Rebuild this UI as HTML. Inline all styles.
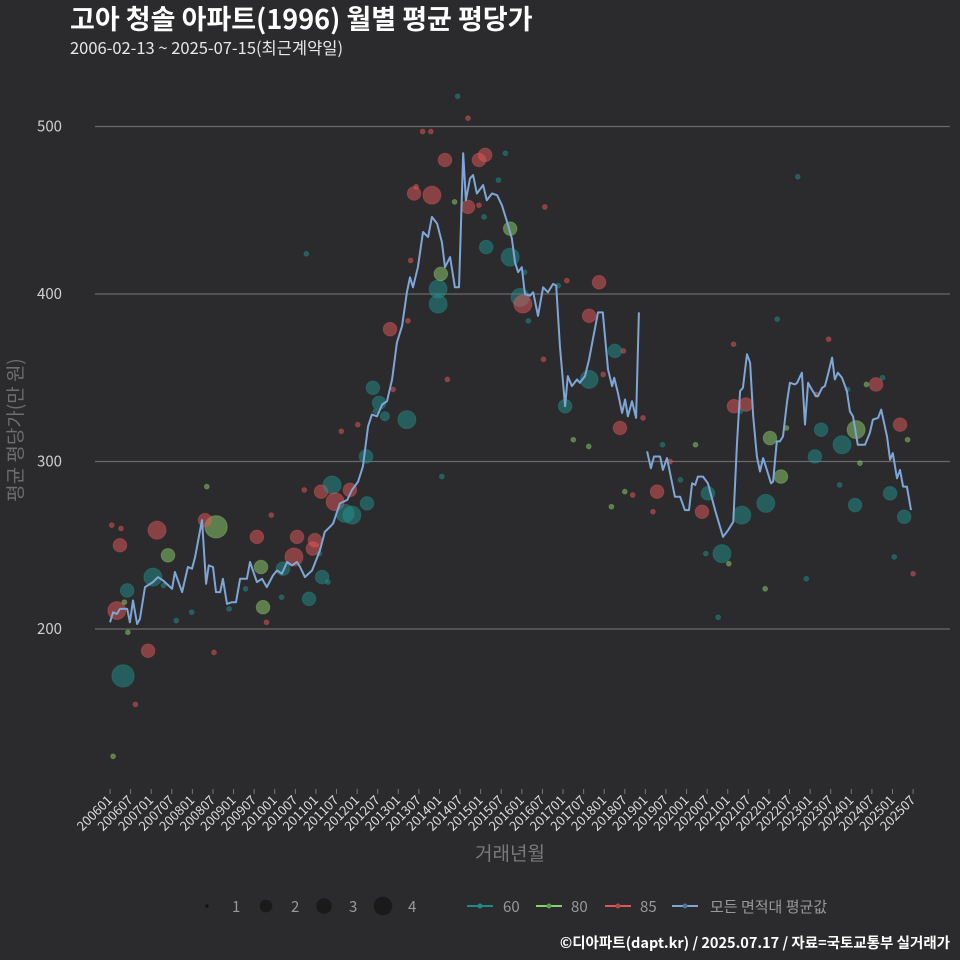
<!DOCTYPE html>
<html><head><meta charset="utf-8"><style>
html,body{margin:0;padding:0;background:#2b2b2d;}
svg{display:block;font-family:"Noto Sans CJK KR","Liberation Sans",sans-serif;}
</style></head><body>
<svg id="chart" width="960" height="960" viewBox="0 0 960 960" xmlns="http://www.w3.org/2000/svg">
<rect width="960" height="960" fill="#2b2b2d"/>
<text x="70" y="29" fill="#ffffff" font-size="27" font-weight="bold">고아 청솔 아파트(1996) 월별 평균 평당가</text>
<text x="70" y="54" fill="#e8e8e8" font-size="16.5">2006-02-13 ~ 2025-07-15(최근계약일)</text>
<g id="grid"></g>
<g id="yticks"></g>
<g id="xticks"></g>
<g id="bubbles"></g>
<g id="line"></g>
<text transform="translate(22,430) rotate(-90)" text-anchor="middle" fill="#6e6e6e" font-size="19">평균 평당가(만 원)</text>
<text x="510" y="860" text-anchor="middle" fill="#7a7a7a" font-size="19">거래년월</text>
<g font-size="15" fill="#999">
<circle cx="207" cy="906" r="1.6" fill="#111"/><text x="232" y="912">1</text>
<circle cx="266" cy="906" r="6.3" fill="#1a1a1b"/><text x="291" y="912">2</text>
<circle cx="324" cy="906" r="7.8" fill="#1a1a1b"/><text x="349" y="912">3</text>
<circle cx="383" cy="906" r="9.3" fill="#1a1a1b"/><text x="408" y="912">4</text>
<g><line x1="467" y1="906" x2="493" y2="906" stroke="#1e8a86" stroke-width="2"/><circle cx="480" cy="906" r="2.5" fill="#1e8a86"/><text x="503" y="912">60</text></g>
<g><line x1="536" y1="906" x2="562" y2="906" stroke="#86d36a" stroke-width="2"/><circle cx="549" cy="906" r="2.5" fill="#5aa050"/><text x="571" y="912">80</text></g>
<g><line x1="605" y1="906" x2="631" y2="906" stroke="#e05555" stroke-width="2"/><circle cx="618" cy="906" r="2.5" fill="#b04848"/><text x="640" y="912">85</text></g>
<g><line x1="672" y1="906" x2="698" y2="906" stroke="#7ea6d6" stroke-width="2"/><circle cx="685" cy="906" r="2.5" fill="#55709a"/><text x="710" y="912">모든 면적대 평균값</text></g>
</g>
<text x="950" y="948" text-anchor="end" fill="#ffffff" font-size="14.5" font-weight="bold">©디아파트(dapt.kr) / 2025.07.17 / 자료=국토교통부 실거래가</text>
</svg>
<script>
const yTicks = [200, 300, 400, 500];
const xTickLabels = ["200601","200607","200701","200707","200801","200807","200901","200907","201001","201007","201101","201107","201201","201207","201301","201307","201401","201407","201501","201507","201601","201607","201701","201707","201801","201807","201901","201907","202001","202007","202101","202107","202201","202207","202301","202307","202401","202407","202501","202507"];
// average line: month offset from 2006-01, value (null = gap)
const lineMonths = [0,0.9,2,2.9,5,5.8,6.7,7.9,8.7,10.2,12.5,14,15.4,18.1,18.9,21,22.7,23.9,24.8,26.8,28,28.8,30,30.9,32.1,32.9,34.1,35.5,36.7,37.9,39.9,40.8,42.8,44.3,45.7,47.5,48.7,50.1,51.6,53,54.5,55.4,56.8,58.9,61.2,62.6,64.1,65,67,69.1,70.5,72.3,73.7,75.2,76.3,77.8,79.3,80.7,82.2,83.6,85.1,86.5,87.4,88.3,89.7,91.2,92.7,93.8,95.3,96.7,97.6,99.1,100.5,101.7,102.9,103.7,104.9,105.8,106.9,108.7,109.8,111.3,112.8,114.2,115.7,117.1,118,118.9,120,120.9,122.4,123.3,124.7,126.2,127.6,129.1,130,131.1,132.6,133.4,134.6,136.1,136.9,138.4,139.6,140.7,142.2,143.6,145.1,146.3,146.9,148,149.2,150.1,150.9,152.1,153.3,154.1,155.3,156.5,157.6,158.5,160.3,161.1,162.3,164.6,166.1,167.5,168.7,169.6,170.5,171.3,172.8,174.2,176.3,178.6,180.1,181.6,182.7,183.6,184.4,185.6,186.5,187.4,188.5,189.4,190.3,191.4,192.6,193.2,194.3,195.2,196.1,197.3,198.1,199.6,200.2,201.6,202.5,203.4,204.5,205.7,206.3,207.5,208.3,209.2,210.4,211.2,212.1,213.3,214.7,215.6,216.5,217.9,220,221.4,222.3,223.8,224.7,226.4,227.3,228.1,229.3,230.2,231.1,232.2,233.4];
const lineValues = [204,210,209,212,212,204,217,203,206,225,228,231,229,224,234,222,237,236,243,265,227,238,237,222,222,230,215,216,216,230,230,240,228,230,225,232,235,233,240,238,240,237,231,235,247,258,261,263,275,277,283,288,297,321,328,327,334,336,349,371,381,401,410,404,416,437,434,446,442,431,416,422,404,404,484,456,469,471,460,465,456,460,459,453,443,433,419,413,416,400,399,401,387,404,401,406,405,369,333,351,345,349,347,351,361,373,389,389,355,345,350,341,329,337,327,336,326,389,null,306,296,303,303,295,302,279,279,271,271,287,286,291,291,287,271,255,259,264,311,342,344,364,359,327,303,294,302,295,287,288,312,312,315,336,347,346,347,353,322,347,343,339,339,344,345,352,362,349,353,350,342,330,327,310,310,317,325,326,331,315,301,305,290,295,285,285,271];
// bubbles
const bubMonths = [3.8,2,2.9,5,11.1,13.7,12.5,16.9,30.9,27.7,42.8,44.6,44,50.4,53.6,54.5,58,59.1,59.7,61.8,61.5,64.7,65.6,68.5,70.5,69.9,74.9,74.6,76.6,78.4,80.1,81.6,86.5,88.6,93.8,97.6,95.6,95.6,96.4,104.3,107.5,109.3,109.6,116.6,116.6,119.5,120.3,142.5,139.6,132.6,139.6,147.1,148.6,159.4,174.2,172.5,178.3,181.8,185.3,184.1,192.3,191.1,195.5,205.4,207.2,213.3,217.4,217.1,223.2,227.3,230.2,231.4,
0.9,0.5,3.2,5.2,4.2,7.4,15.6,19.3,23.8,30.3,34.7,39.5,45.6,47,50,56.6,61,63.5,67.4,72.2,77.3,82.5,86.8,87.6,89.2,91.1,93.5,98.3,101.3,104.3,107.5,109,113.2,115.2,120.8,126.3,130.6,133.1,135,139.5,143.7,146.1,150,155.3,158.2,161,163.2,166.2,170.6,173.6,177.2,180.3,181.7,183.7,190.9,194.4,197.1,200.4,202.9,205.8,209.4,212.6,214.9,218.5,220.4,225.1,228.5,232.4,234,152.3,149.6,121.9,126.7,100.4,96.7,57.2,28.2];
const bubValues = [172,211,250,223,187,259,231,244,261,265,255,213,237,236,243,255,218,248,253,231,282,286,276,269,268,283,275,303,344,335,327,379,325,460,459,480,394,403,412,452,480,483,428,439,422,398,394,407,387,333,349,366,320,282,281,270,245,333,334,268,314,275,291,303,319,310,319,274,346,281,322,267,
124,262,260,198,216,155,226,205,210,186,212,224,204,268,219,283,245,228,318,322,330,343,384,420,464,497,497,349,518,505,453,446,468,484,413,361,405,408,313,309,352,273,282,326,270,310,300,289,310,245,207,239,370,330,224,385,320,470,230,340,373,286,343,299,346,350,243,313,233,280,366,384,452,455,291,424,285,240];
const bubSizes = [5,4,3,3,3,4,4,3,5,3,3,3,3,3,4,3,3,3,3,3,3,4,4,4,4,3,3,3,3,3,2,3,4,3,4,3,4,4,3,3,3,3,3,3,4,4,4,3,3,3,4,3,3,3,3,3,4,3,3,4,3,4,3,3,3,4,4,3,3,3,3,3,
1,1,1,1,1,1,1,1,1,1,1,1,1,1,1,1,1,1,1,1,1,1,1,1,1,1,1,1,1,1,1,1,1,1,1,1,1,1,1,1,1,1,1,1,1,1,1,1,1,1,1,1,1,1,1,1,1,1,1,1,1,1,1,1,1,1,1,1,1,1,1,1,1,1,1,1,1,1];
const bubTypes = [60,85,85,60,85,85,60,80,80,85,85,80,80,60,85,85,60,85,85,60,85,60,85,60,60,85,60,60,60,60,60,85,60,85,85,85,60,60,80,85,85,85,60,80,60,60,85,85,85,60,60,60,85,85,60,85,60,85,85,60,80,60,80,60,60,60,80,60,85,60,85,60,
80,85,85,80,80,85,60,60,60,85,60,60,85,85,60,85,60,60,85,85,60,85,85,85,85,85,85,85,60,85,85,60,60,60,60,85,60,85,80,80,85,80,80,85,85,60,85,60,80,60,60,80,85,60,80,60,80,60,60,85,85,60,60,80,80,60,60,80,85,85,85,60,85,80,60,60,80,85];

const NS = "http://www.w3.org/2000/svg";
const X0 = 110, XS = 3.432;
const xScale = m => X0 + m * XS;
const yScale = v => 629 - (v - 200) * 1.675;
const colors = {60:"#22918d", 80:"#8fd16d", 85:"#e65a5a"};
const rScale = n => 2.4 + (n - 1) * 2.2;

function mk(tag, attrs, parent){const e=document.createElementNS(NS,tag);for(const k in attrs)e.setAttribute(k,attrs[k]);parent.appendChild(e);return e;}

const grid = document.getElementById('grid');
const yg = document.getElementById('yticks');
yTicks.forEach(v=>{
  const l = mk('line',{x1:95,x2:950,y1:yScale(v),y2:yScale(v),stroke:'#6a6a6a','stroke-width':1.2},grid);
  
  
  const t = mk('text',{x:62,y:yScale(v)+5,'text-anchor':'end',fill:'#cfcfcf','font-size':15},yg);
  t.textContent = v;
  
  
});
const xg = document.getElementById('xticks');
xTickLabels.forEach((lab,i)=>{
  const x = xScale(i*6);
  const tk = mk('line',{x1:x,x2:x,y1:789,y2:794,stroke:'#777','stroke-width':1},xg);
  
  
  const t = mk('text',{transform:`translate(${x+3},${801}) rotate(-45)`,'text-anchor':'end',fill:'#dcdcdc','font-size':13},xg);
  t.textContent = lab;
  
  
});
const bg = document.getElementById('bubbles');
bubMonths.forEach((m,i)=>{
  const c = mk('circle',{cx:xScale(m),cy:yScale(bubValues[i]),r:rScale(bubSizes[i]),fill:colors[bubTypes[i]],'fill-opacity':0.5,stroke:colors[bubTypes[i]],'stroke-opacity':0.35},bg);
  
  
});
const lg = document.getElementById('line');
let seg = [];
const segs = [];
lineMonths.forEach((m,i)=>{
  if(lineValues[i]===null){ if(seg.length) segs.push(seg); seg=[]; }
  else seg.push(xScale(m).toFixed(1)+','+yScale(lineValues[i]).toFixed(1));
});
if(seg.length) segs.push(seg);
segs.forEach((s,i)=>{
  const p = mk('polyline',{points:s.join(' '),fill:'none',stroke:'#7ea6d6','stroke-width':2,'stroke-linejoin':'round'},lg);
  
  
});
</script>
</body></html>
